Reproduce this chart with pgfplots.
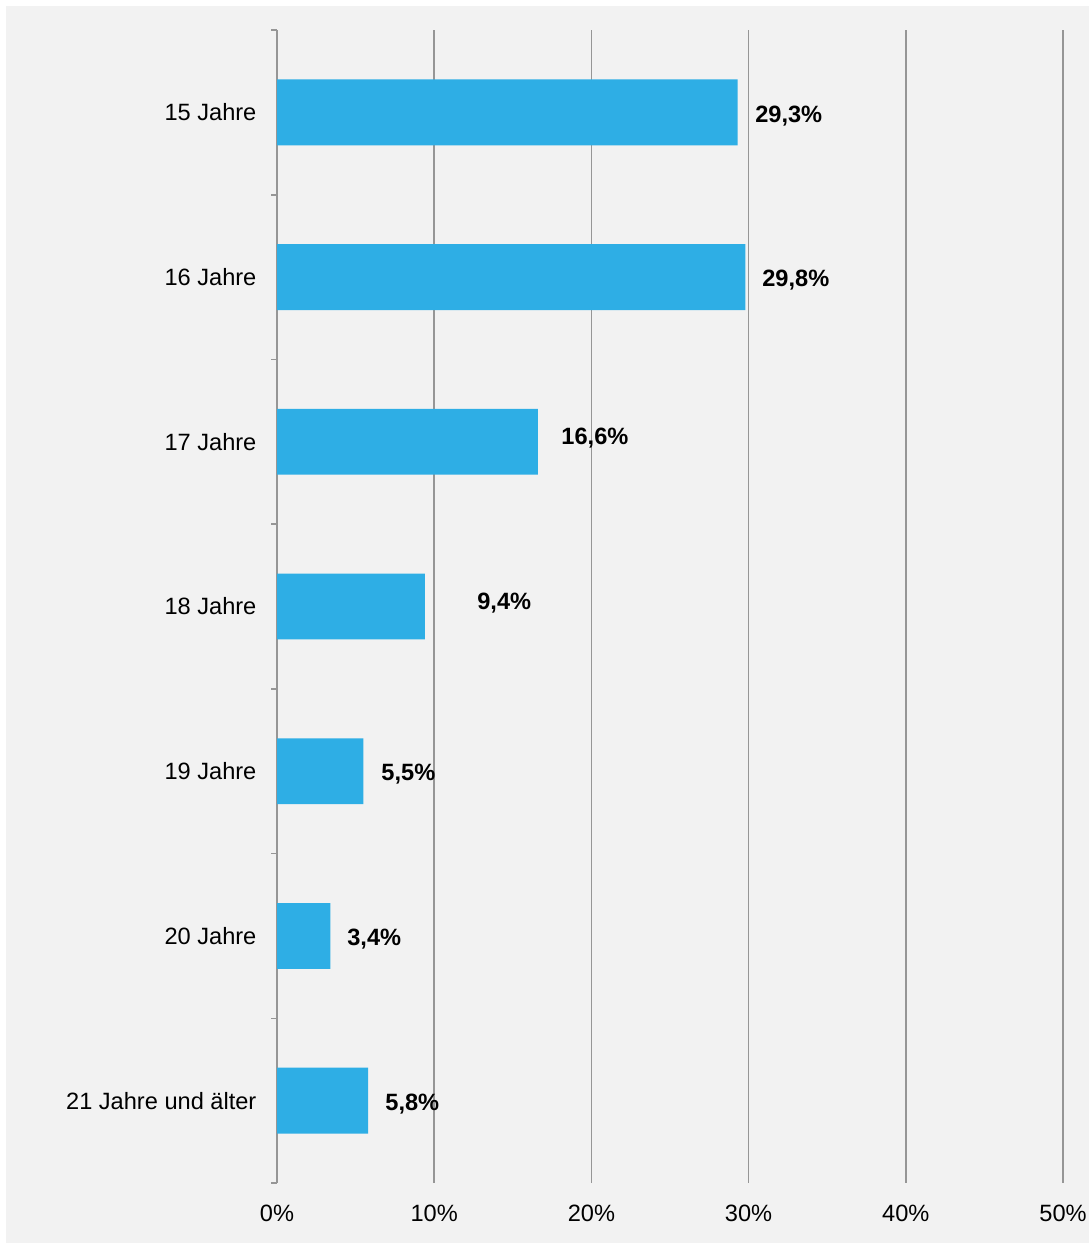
\documentclass[border=0pt]{standalone}
\usepackage{fontspec}
\setmainfont{Liberation Sans}
\usepackage{pgfplots}
\pgfplotsset{compat=1.18}
\usepackage{pgfplotstable}

\definecolor{barblue}{RGB}{46,174,229}
\definecolor{panel}{RGB}{242,242,242}
\definecolor{gridgray}{RGB}{150,150,150}

% bar values (share in %)
\pgfplotstableread{
y val
0 29.3
1 29.8
2 16.6
3 9.4
4 5.5
5 3.4
6 5.8
}\bars

% value labels: left edge of the text, in axis units
\pgfplotstableread{
y x label
0.02 30.40 29,3\%
1.02 30.85 29,8\%
1.98 18.07 16,6\%
2.98 12.72 9,4\%
4.02 6.62 5,5\%
5.02 4.45 3,4\%
6.02 6.87 5,8\%
}\labels

\begin{document}
\begin{tikzpicture}
  \fill[white] (0,0) rectangle (544.5pt,-621.5pt);
  \fill[panel] (3pt,-3pt) rectangle (544.5pt,-621.5pt);
  \useasboundingbox (0,0) rectangle (544.5pt,-621.5pt);
  \begin{axis}[
    at={(138.5pt,-15pt)}, anchor=north west,
    scale only axis,
    width=393pt, height=576.5pt,
    font=\fontsize{11.8pt}{14pt}\selectfont,
    /pgf/number format/assume math mode=true,
    xmin=0, xmax=50,
    ymin=-0.5, ymax=6.5,
    y dir=reverse,
    axis y line*=left, axis x line*=bottom,
    x axis line style={draw=none},
    y axis line style={gridgray, line width=1pt},
    xtick={0,10,...,50},
    xticklabels={0\%,10\%,20\%,30\%,40\%,50\%},
    xmajorgrids,
    grid style={gridgray, line width=0.8pt},
    major x tick style={draw=none},
    ytick={0,...,6},
    yticklabels={15 Jahre,16 Jahre,17 Jahre,18 Jahre,19 Jahre,20 Jahre,21 Jahre und älter},
    major y tick style={draw=none},
    minor ytick={-0.5,0.5,...,6.5},
    minor y tick style={gridgray, line width=0.8pt},
    minor tick length=3pt,
    tick align=outside,
    yticklabel style={xshift=-2.5pt},
    xticklabel style={yshift=-3pt},
    clip=false,
  ]
  \addplot[xbar, bar width=0.4, fill=barblue, draw=none] table[x=val, y=y] {\bars};
  \addplot[draw=none, mark=none, nodes near coords, point meta=explicit symbolic,
    nodes near coords style={anchor=west, inner sep=0pt, font=\fontsize{11.8pt}{14pt}\selectfont\bfseries}]
    table[x=x, y=y, meta=label] {\labels};
  \end{axis}
\end{tikzpicture}
\end{document}
